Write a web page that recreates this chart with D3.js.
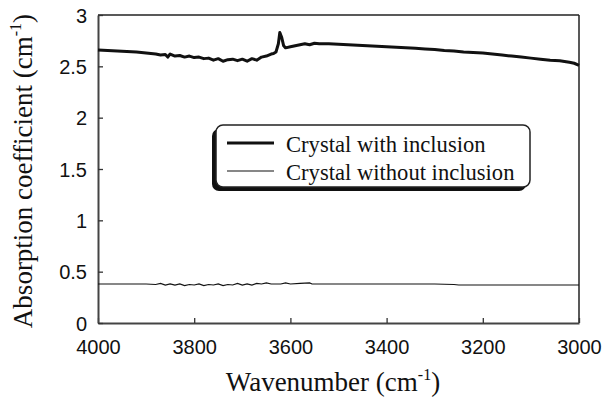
<!DOCTYPE html>
<html>
<head>
<meta charset="utf-8">
<script src="https://cdn.jsdelivr.net/npm/d3@7"></script>
<style>
  body { margin: 0; background: #fff; }
  .tick-label { font-family: "Liberation Sans", Arial, sans-serif; font-size: 20px; fill: #111; }
  .axis-title { font-family: "Liberation Serif", "Times New Roman", serif; font-size: 27px; fill: #111; }
  .legend-text { font-family: "Liberation Serif", "Times New Roman", serif; font-size: 22.6px; fill: #111; }
</style>
</head>
<body>
<div class="chart"></div>
<script>
// DATA -----------------------------------

// crystal with inclusion (thick line)
var withWavenumber = [4000, 3980, 3960, 3940, 3920, 3900, 3890, 3880, 3870, 3860, 3855, 3850, 3840, 3830, 3820, 3810, 3800,
  3790, 3780, 3770, 3760, 3750, 3740, 3730, 3720, 3710, 3700, 3690, 3680, 3670, 3660, 3650, 3645, 3640, 3635, 3630,
  3625, 3622, 3618, 3614, 3610, 3600, 3590, 3580, 3570, 3560, 3550, 3540, 3520, 3500, 3480, 3460, 3440, 3420, 3400,
  3380, 3360, 3340, 3320, 3300, 3280, 3260, 3240, 3220, 3200, 3180, 3160, 3140, 3120, 3100, 3080, 3060, 3040, 3020,
  3010, 3000];
var withAbsorption = [2.66, 2.655, 2.65, 2.645, 2.64, 2.63, 2.625, 2.62, 2.61, 2.615, 2.59, 2.62, 2.60, 2.605, 2.59, 2.60, 2.585,
  2.59, 2.575, 2.58, 2.56, 2.575, 2.55, 2.565, 2.57, 2.555, 2.57, 2.55, 2.575, 2.56, 2.59, 2.60, 2.61, 2.62, 2.625, 2.64,
  2.72, 2.83, 2.78, 2.70, 2.68, 2.69, 2.70, 2.71, 2.72, 2.71, 2.725, 2.72, 2.72, 2.715, 2.71, 2.705, 2.70, 2.695, 2.69,
  2.685, 2.68, 2.675, 2.67, 2.665, 2.655, 2.65, 2.64, 2.635, 2.63, 2.62, 2.61, 2.60, 2.59, 2.58, 2.57, 2.56, 2.555, 2.54,
  2.53, 2.51];

// crystal without inclusion (thin line)
var withoutWavenumber = [4000, 3900, 3880, 3870, 3860, 3850, 3840, 3830, 3820, 3810, 3800, 3790, 3780, 3770, 3760, 3750,
  3740, 3730, 3720, 3710, 3700, 3690, 3680, 3670, 3660, 3650, 3640, 3620, 3610, 3600, 3580, 3560, 3555, 3500, 3400,
  3300, 3260, 3250, 3200, 3100, 3000];
var withoutAbsorption = [0.38, 0.38, 0.375, 0.385, 0.37, 0.38, 0.37, 0.38, 0.365, 0.375, 0.37, 0.38, 0.365, 0.375, 0.37, 0.38,
  0.365, 0.375, 0.37, 0.385, 0.37, 0.38, 0.37, 0.385, 0.38, 0.39, 0.38, 0.38, 0.39, 0.38, 0.385, 0.39, 0.38, 0.38, 0.38,
  0.38, 0.375, 0.37, 0.37, 0.37, 0.37];

var xTicks = [4000, 3800, 3600, 3400, 3200, 3000];
var yTicks = [0, 0.5, 1, 1.5, 2, 2.5, 3];
var yTickLabels = ["0", "0.5", "1", "1.5", "2", "2.5", "3"];
var legendLabels = ["Crystal with inclusion", "Crystal without inclusion"];

// SET UP SVG ELEMENT -----------------------------------

var svgWidth = 605;
var svgHeight = 401;

var margin = { top: 15, right: 26, bottom: 78, left: 98 };

var chartWidth = svgWidth - margin.left - margin.right;
var chartHeight = svgHeight - margin.top - margin.bottom;

var svg = d3.select(".chart")
  .append("svg")
  .attr("width", svgWidth)
  .attr("height", svgHeight);

var chartGroup = svg.append("g")
  .attr("transform", `translate(${margin.left}, ${margin.top})`);

// scales (wavenumber runs right to left)
var xScale = d3.scaleLinear()
  .domain([4000, 3000])
  .range([0, chartWidth]);

var yScale = d3.scaleLinear()
  .domain([0, 3])
  .range([chartHeight, 0]);

// FRAME AND AXES -----------------------------------

// top and right borders (thin)
chartGroup.append("line")
  .attr("x1", 0).attr("x2", chartWidth)
  .attr("y1", 0).attr("y2", 0)
  .attr("stroke", "#222").attr("stroke-width", 1.5);
chartGroup.append("line")
  .attr("x1", chartWidth).attr("x2", chartWidth)
  .attr("y1", 0).attr("y2", chartHeight)
  .attr("stroke", "#222").attr("stroke-width", 1.5);

// bottom axis, ticks point inward
var bottomAxis = d3.axisBottom(xScale)
  .tickValues(xTicks)
  .tickSizeInner(-5)
  .tickSizeOuter(0)
  .tickFormat(d => d);

var xAxisGroup = chartGroup.append("g")
  .attr("transform", `translate(0, ${chartHeight})`)
  .call(bottomAxis);

xAxisGroup.select(".domain").attr("stroke", "#444").attr("stroke-width", 2);
xAxisGroup.selectAll(".tick line").attr("stroke", "#333").attr("stroke-width", 1.3);
xAxisGroup.selectAll(".tick text")
  .attr("class", "tick-label")
  .attr("y", 31)
  .attr("dy", 0);

// left axis, ticks point inward
var leftAxis = d3.axisLeft(yScale)
  .tickValues(yTicks)
  .tickSizeInner(-5)
  .tickSizeOuter(0)
  .tickFormat((d, i) => yTickLabels[i]);

var yAxisGroup = chartGroup.append("g")
  .call(leftAxis);

yAxisGroup.select(".domain").attr("stroke", "#444").attr("stroke-width", 2);
yAxisGroup.selectAll(".tick line").attr("stroke", "#333").attr("stroke-width", 1.3);
yAxisGroup.selectAll(".tick text")
  .attr("class", "tick-label")
  .attr("x", -11)
  .attr("dy", "0.36em");

// remove d3 default font attrs so CSS wins
svg.selectAll("g[font-family]").attr("font-family", null).attr("font-size", null);

// axis titles
var xTitle = svg.append("text")
  .attr("class", "axis-title")
  .attr("x", 333)
  .attr("y", 391)
  .attr("text-anchor", "middle");
xTitle.append("tspan").text("Wavenumber (cm");
xTitle.append("tspan").attr("dy", -11).style("font-size", "16px").text("-1");
xTitle.append("tspan").attr("dy", 11).text(")");

var yTitle = svg.append("text")
  .attr("class", "axis-title")
  .attr("transform", `translate(32, 171) rotate(-90)`)
  .attr("text-anchor", "middle");
yTitle.append("tspan").text("Absorption coefficient (cm");
yTitle.append("tspan").attr("dy", -11).style("font-size", "16px").text("-1");
yTitle.append("tspan").attr("dy", 11).text(")");

// LINES -----------------------------------

var lineGen = d3.line()
  .x(d => xScale(d[0]))
  .y(d => yScale(d[1]));

var withData = withWavenumber.map((w, i) => [w, withAbsorption[i]]);
var withoutData = withoutWavenumber.map((w, i) => [w, withoutAbsorption[i]]);

chartGroup.append("path")
  .datum(withoutData)
  .attr("d", lineGen)
  .attr("fill", "none")
  .attr("stroke", "#111")
  .attr("stroke-width", 1.2);

chartGroup.append("path")
  .datum(withData)
  .attr("d", lineGen)
  .attr("fill", "none")
  .attr("stroke", "#111")
  .attr("stroke-width", 3)
  .attr("stroke-linejoin", "round");

// LEGEND -----------------------------------

var legend = svg.append("g")
  .attr("transform", "translate(216, 125)");

// shadow, offset down and left
legend.append("rect")
  .attr("x", -4).attr("y", 4)
  .attr("width", 314).attr("height", 62)
  .attr("rx", 7)
  .attr("fill", "#111");

legend.append("rect")
  .attr("x", 0).attr("y", 0)
  .attr("width", 314).attr("height", 62)
  .attr("rx", 7)
  .attr("fill", "#fff")
  .attr("stroke", "#222")
  .attr("stroke-width", 1.5);

var legendWidths = [3, 1.2];
var legendY = [18, 46];

legendLabels.forEach(function(label, i) {
  legend.append("line")
    .attr("x1", 11).attr("x2", 58)
    .attr("y1", legendY[i]).attr("y2", legendY[i])
    .attr("stroke", "#111")
    .attr("stroke-width", legendWidths[i]);

  legend.append("text")
    .attr("class", "legend-text")
    .attr("x", 70)
    .attr("y", legendY[i] + 9)
    .text(label);
});
</script>
</body>
</html>
